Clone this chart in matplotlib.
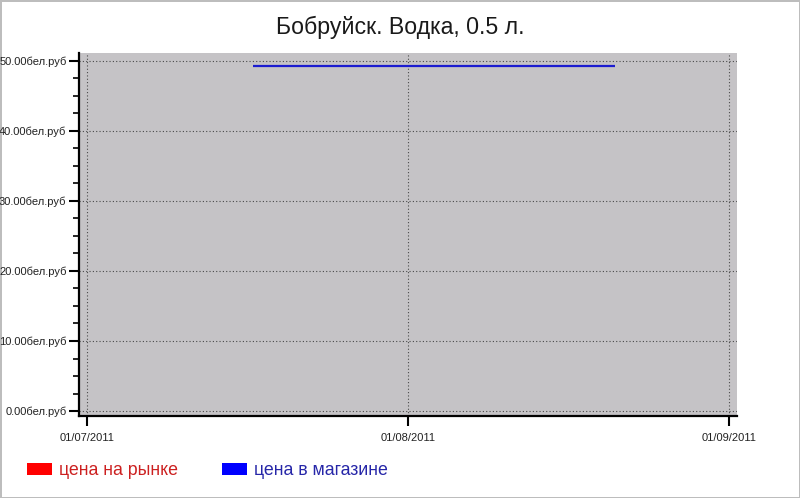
import matplotlib
matplotlib.use("Agg")
import matplotlib.pyplot as plt
import matplotlib.dates as mdates
from matplotlib.patches import Patch
from matplotlib.ticker import MultipleLocator, FuncFormatter
import numpy as np
import pandas as pd

plt.rcParams["font.family"] = ["Liberation Sans", "DejaVu Sans"]

# data
shop_dates = pd.to_datetime(["2011-07-17", "2011-08-21"])
shop_price = [49.3, 49.3]
y_ticks = [0, 10, 20, 30, 40, 50]
x_ticks = pd.to_datetime(["2011-07-01", "2011-08-01", "2011-09-01"])
legend_labels = ["цена на рынке", "цена в магазине"]

fig = plt.figure(figsize=(8.0, 4.98), dpi=100)
fig.patch.set_facecolor("white")
fig.patch.set_edgecolor("#bdbdbd")
fig.patch.set_linewidth(2)

ax = fig.add_axes([0.09875, 0.1647, 0.8225, 0.7289])
ax.set_facecolor("#c5c3c6")

ax.plot(shop_dates, shop_price, color="#1c1cd0", linewidth=1.6, solid_capstyle="butt")

ax.set_ylim(-0.71, 51.14)
pad = pd.Timedelta(days=0.77)
ax.set_xlim(x_ticks[0] - pad, x_ticks[-1] + pad)

ax.set_yticks(y_ticks)
ax.yaxis.set_minor_locator(MultipleLocator(2.5))
ax.yaxis.set_major_formatter(FuncFormatter(lambda v, p: f"{v:.2f}бел.руб"))
ax.set_xticks(x_ticks)
ax.xaxis.set_major_formatter(mdates.DateFormatter("%d/%m/%Y"))

ax.grid(True, which="major", linestyle=(0, (1, 2)), color="#4a4a4a", linewidth=0.8)

for s in ["top", "right"]:
    ax.spines[s].set_visible(False)
for s in ["left", "bottom"]:
    ax.spines[s].set_linewidth(1.6)
    ax.spines[s].set_color("black")

ax.tick_params(axis="y", which="major", length=7, width=1.5, labelsize=8, pad=2, colors="black")
ax.tick_params(axis="y", which="minor", length=4.5, width=1.2)
ax.tick_params(axis="x", which="major", length=7, width=1.5, labelsize=8, pad=5)
for lbl in ax.get_xticklabels() + ax.get_yticklabels():
    lbl.set_color("#222222")

fig.text(0.5, 0.945, "Бобруйск. Водка, 0.5 л.", ha="center", va="center",
         fontsize=16.7, color="#1a1a1a")

handles = [Patch(facecolor="#ff0000", edgecolor="none"),
           Patch(facecolor="#0000ff", edgecolor="none")]
fig.legend(handles, legend_labels, loc="center left", bbox_to_anchor=(0.025, 0.055),
           ncol=2, frameon=False, fontsize=12.8, handlelength=1.38, handleheight=0.65,
           handletextpad=0.4, columnspacing=2.5, borderaxespad=0,
           labelcolor=["#cc2020", "#2626a8"])

fig.savefig("out.png", dpi=100)
